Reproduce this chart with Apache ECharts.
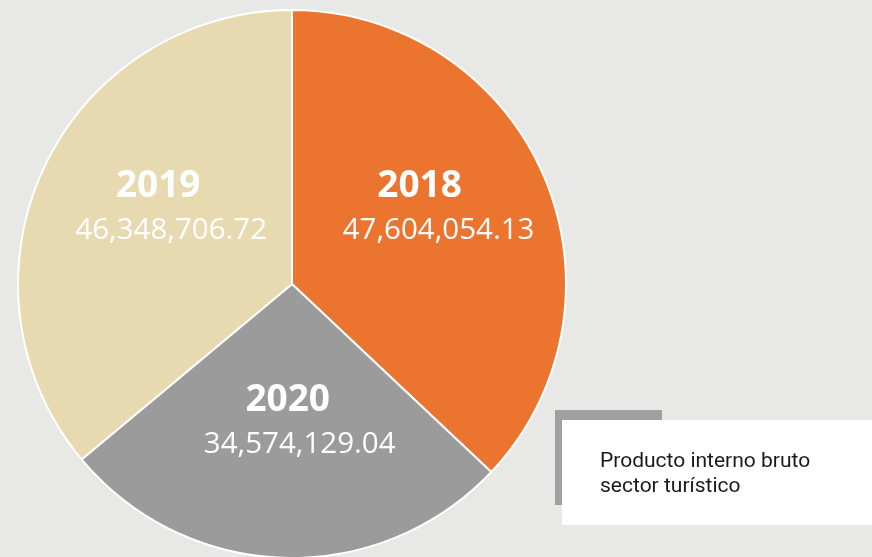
<!DOCTYPE html>
<html><head><meta charset="utf-8">
<script src="https://cdn.jsdelivr.net/npm/echarts@6/dist/echarts.min.js"></script>
<style>html,body{margin:0;padding:0;background:#e8e8e7;}#c{width:872px;height:557px;}</style>
</head><body><div id="c"></div>
<script>
const years = ['2018', '2020', '2019'];
const values = [47604054.13, 34574129.04, 46348706.72];
const colors = ['#eb742f', '#9b9b9b', '#e8dab0'];
const legendText = ['Producto interno bruto', 'sector turístico'];
// label layout tweaks (pixels)
const labelOffsets = [[18, -20], [12, -1], [6, -16]];
const yearShift = [38, 24, 26];

const fmt = v => v.toLocaleString('en-US', {minimumFractionDigits: 2, maximumFractionDigits: 2});
const chart = echarts.init(document.getElementById('c'));
chart.setOption({
  backgroundColor: '#e8e8e7',
  animation: false,
  series: [{
    type: 'pie',
    center: [292, 284],
    radius: [0, 274],
    startAngle: 90,
    clockwise: true,
    data: years.map((y, i) => ({
      name: y, value: values[i], itemStyle: {color: colors[i]},
      label: {
        offset: labelOffsets[i],
        rich: {
          y: {fontFamily: 'Open Sans', fontWeight: 'bold', fontSize: 37, color: '#ffffff', lineHeight: 44, align: 'center', padding: [0, yearShift[i], 0, 0]},
          v: {fontFamily: 'Open Sans', fontWeight: 'normal', fontSize: 29.5, color: '#ffffff', lineHeight: 44, align: 'center'}
        }
      }
    })),
    itemStyle: {borderColor: '#ffffff', borderWidth: 2},
    label: {
      position: 'inside',
      formatter: p => '{y|' + p.name + '}\n{v|' + fmt(p.value) + '}'
    },
    labelLine: {show: false},
    emphasis: {disabled: true}
  }],
  graphic: [
    {type: 'rect', shape: {x: 555, y: 410, width: 107, height: 95}, style: {fill: '#a0a0a0'}, z: 10},
    {type: 'rect', shape: {x: 562, y: 420, width: 320, height: 105}, style: {fill: '#ffffff'}, z: 11},
    {type: 'text', x: 600, y: 462, style: {text: legendText[0], font: '21px Roboto', fill: '#1a1a1a', textVerticalAlign: 'middle'}, z: 12},
    {type: 'text', x: 600, y: 487, style: {text: legendText[1], font: '21px Roboto', fill: '#1a1a1a', textVerticalAlign: 'middle'}, z: 12}
  ]
});
</script></body></html>
